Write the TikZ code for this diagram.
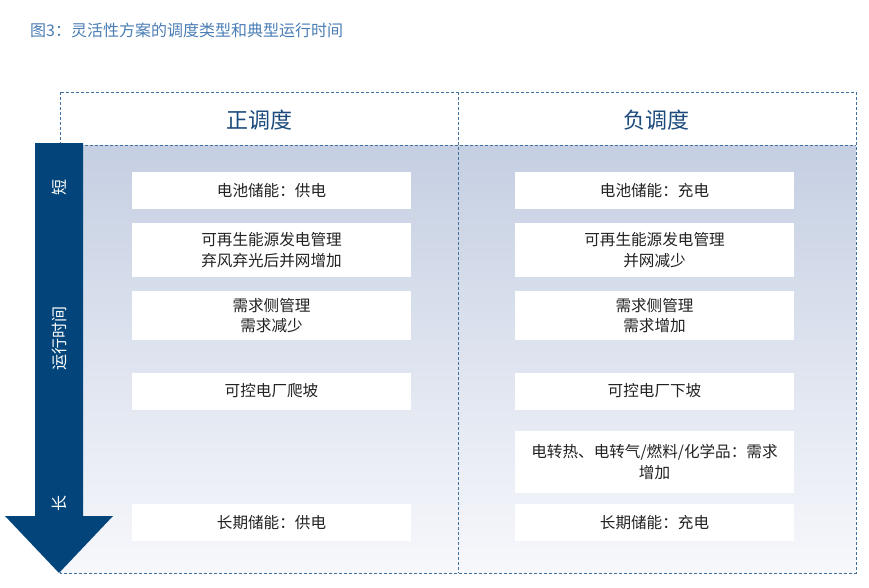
\documentclass[tikz,border=0pt]{standalone}
\usepackage{fontspec}
\setmainfont{Noto Sans CJK SC}
\definecolor{arrowblue}{HTML}{03457A}
\definecolor{headblue}{HTML}{1B4A7C}
\definecolor{titleblue}{HTML}{4A7DB4}
\definecolor{dashblue}{HTML}{41709C}
\definecolor{shadetop}{HTML}{C5CFE2}
\definecolor{shadebot}{HTML}{F7F8FC}
\definecolor{boxtext}{HTML}{222222}
\tikzset{
  optbox/.style={fill=white, draw=none, minimum width=279pt, inner sep=0pt, align=center,
    font=\fontsize{15.6}{20.5}\selectfont, text=boxtext},
  dashline/.style={draw=dashblue, line width=1pt, dash pattern=on 3pt off 2pt},
  headtext/.style={font=\fontsize{22}{26}\selectfont, text=headblue},
  arrowtext/.style={font=\fontsize{16}{18}\selectfont, text=white, rotate=90, inner sep=0pt}
}
\begin{document}
\begin{tikzpicture}[x=1pt,y=-1pt]
\useasboundingbox (0,0) rectangle (869,587);
% title
\node[anchor=west, inner sep=0pt, font=\fontsize{16}{18}\selectfont, text=titleblue] (title) at (30,30) {图3：灵活性方案的调度类型和典型运行时间};
% background gradient
\shade[top color=shadetop, bottom color=shadebot] (60,145) rectangle (856,573);
% dashed frame
\draw[dashline] (60,92) rectangle (856,573);
\draw[dashline] (458,92) -- (458,573);
\draw[dashline] (60,145) -- (856,145);
% headers
\node[headtext] (hpos) at (259,120) {正调度};
\node[headtext] (hneg) at (656,120) {负调度};
% arrow
\fill[arrowblue] (35,143) -- (83,143) -- (83,516) -- (113,516) -- (59,573) -- (5,516) -- (35,516) -- cycle;
\node[arrowtext] (tshort) at (59,187) {短};
\node[arrowtext] (tmid) at (59,338) {运行时间};
\node[arrowtext] (tlong) at (59,503) {长};
% left column
\node[optbox, minimum height=37pt] (l1) at (271.5,190.5) {电池储能：供电};
\node[optbox, minimum height=54pt] (l2) at (271.5,250) {可再生能源发电管理\\弃风弃光后并网增加};
\node[optbox, minimum height=49pt] (l3) at (271.5,315.5) {需求侧管理\\需求减少};
\node[optbox, minimum height=37pt] (l4) at (271.5,391) {可控电厂爬坡};
\node[optbox, minimum height=37pt] (l6) at (271.5,522.5) {长期储能：供电};
% right column
\node[optbox, minimum height=37pt] (r1) at (654.5,190.5) {电池储能：充电};
\node[optbox, minimum height=54pt] (r2) at (654.5,250) {可再生能源发电管理\\并网减少};
\node[optbox, minimum height=49pt] (r3) at (654.5,315.5) {需求侧管理\\需求增加};
\node[optbox, minimum height=37pt] (r4) at (654.5,391) {可控电厂下坡};
\node[optbox, minimum height=62pt] (r5) at (654.5,462) {电转热、电转气/燃料/化学品：需求\\增加};
\node[optbox, minimum height=37pt] (r6) at (654.5,522.5) {长期储能：充电};
\end{tikzpicture}
\end{document}
